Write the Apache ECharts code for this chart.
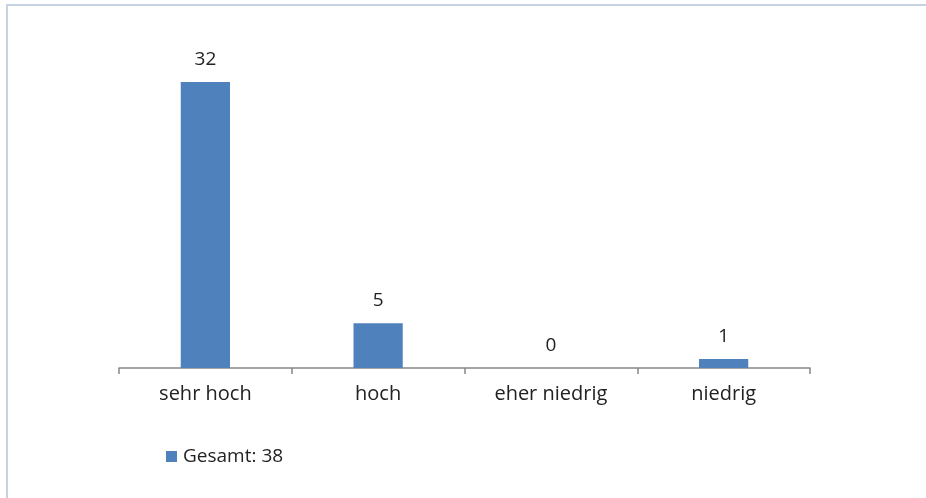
<!DOCTYPE html>
<html>
<head>
<meta charset="utf-8">
<script src="https://cdn.jsdelivr.net/npm/echarts@6/dist/echarts.min.js"></script>
<style>
  html, body { margin: 0; padding: 0; background: #fff; }
  #main { width: 926px; height: 498px; }
</style>
</head>
<body>
<div id="main"></div>
<script>
// Kategorien und Werte
var categories = ['sehr hoch', 'hoch', 'eher niedrig', 'niedrig'];
var values = [32, 5, 0, 1];
var seriesName = 'Gesamt: 38';

var chart = echarts.init(document.getElementById('main'));
var option = {
    animation: false,
    textStyle: { fontFamily: '"Open Sans", sans-serif' },
    graphic: [{
        type: 'rect',
        shape: { x: 7, y: 5, width: 1000, height: 1000 },
        style: { fill: 'none', stroke: '#c8d3e1', lineWidth: 2 },
        silent: true
    }],
    grid: { left: 119, right: 116, top: 82, bottom: 130 },
    legend: {
        data: [seriesName],
        left: 161,
        top: 442,
        itemWidth: 11,
        itemHeight: 11,
        icon: 'rect',
        textStyle: { fontSize: 19, color: '#222', padding: [0, 0, 0, 1] }
    },
    xAxis: {
        type: 'category',
        data: categories,
        axisLine: { lineStyle: { color: '#888', width: 1.5 } },
        axisTick: { show: true, length: 6, inside: false, lineStyle: { color: '#888', width: 1.5 } },
        axisLabel: { fontSize: 20, color: '#222', margin: 16 }
    },
    yAxis: {
        type: 'value',
        min: 0,
        max: 32,
        show: false
    },
    series: [{
        name: seriesName,
        type: 'bar',
        data: values,
        barWidth: '28.5%',
        itemStyle: { color: '#4f81bd' },
        label: {
            show: true,
            position: 'top',
            distance: 13,
            fontSize: 19,
            color: '#222'
        }
    }]
};
chart.setOption(option);
</script>
</body>
</html>
